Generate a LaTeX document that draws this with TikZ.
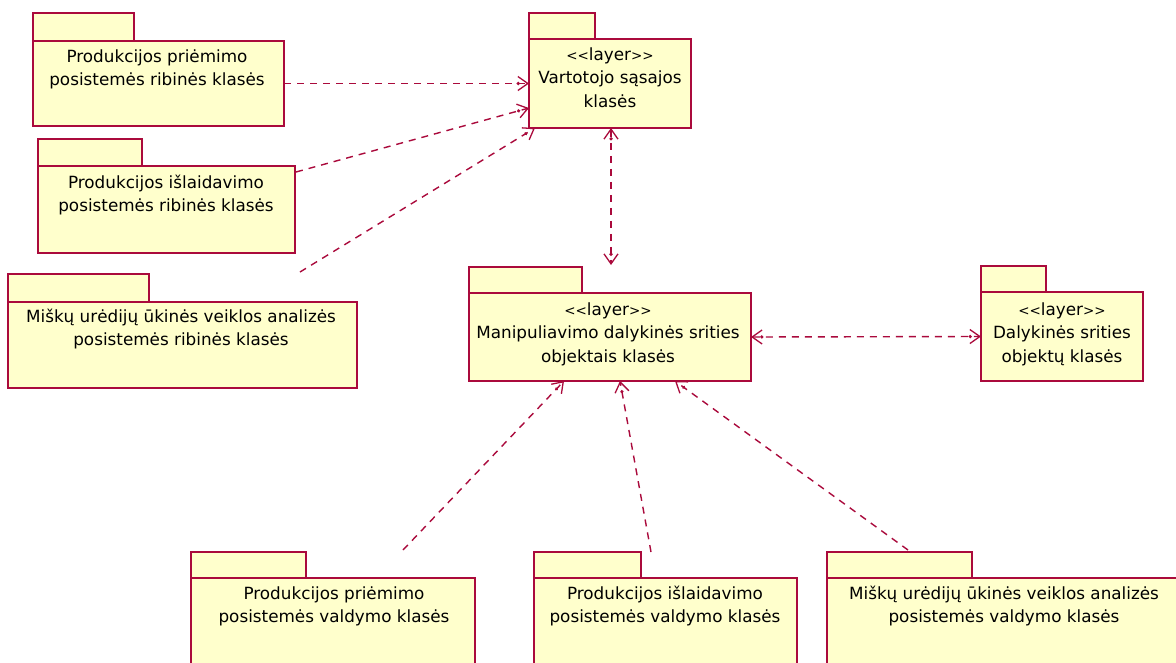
\documentclass[tikz,border=0pt]{standalone}
\usepackage{fontspec}
\setmainfont{DejaVu Sans}
\usetikzlibrary{arrows.meta,calc}
\definecolor{pkgline}{RGB}{170,10,60}
\definecolor{pkgfill}{RGB}{255,255,204}
% fixed-height first line so that the top of a label sits at a known distance above its baseline
\newcommand\firstln{\rule{0pt}{14pt}}
% stereotype marker, with small separate angle brackets
\newcommand\layerst{{\fontsize{13.5}{13.5}\selectfont<{}<}layer{\fontsize{13.5}{13.5}\selectfont>{}>}}
\begin{document}
\begin{tikzpicture}[x=1pt,y=-1pt,
  pkgbody/.style={draw=pkgline,fill=pkgfill,line width=1.5pt,anchor=north west,
    inner sep=0pt,outer sep=0pt},
  pkgtab/.style={draw=pkgline,fill=pkgfill,line width=1.5pt,anchor=south west,
    inner sep=0pt,outer sep=0pt},
  pkgtext/.style={anchor=north,inner sep=0pt,align=center,
    font=\fontsize{16.8}{23.5}\selectfont},
  dep/.style={draw=pkgline,line width=1.4pt,dash pattern=on 7pt off 6pt,
    >={Circle[length=3pt,sep=-2.5pt]Straight Barb[length=10pt,width=14pt,line width=1.3pt]}}
]
\useasboundingbox (0,0) rectangle (1176,662);
\fill[white] (0,0) rectangle (1176,662);
\clip (0,0) rectangle (1176,662);

% boundary packages (left column)
\node[pkgbody,minimum width=251pt,minimum height=85pt] (A) at (33,41) {};
\node[pkgtab,minimum width=101pt,minimum height=28pt] (Atab) at (A.north west) {};
\node[pkgtext] (Atxt) at (157,48) {\firstln Produkcijos priėmimo\\posistemės ribinės klasės};

\node[pkgbody,minimum width=257pt,minimum height=87pt] (B) at (38,166) {};
\node[pkgtab,minimum width=104pt,minimum height=27pt] (Btab) at (B.north west) {};
\node[pkgtext] (Btxt) at (166,174) {\firstln Produkcijos išlaidavimo\\posistemės ribinės klasės};

\node[pkgbody,minimum width=349pt,minimum height=86pt] (C) at (8,302) {};
\node[pkgtab,minimum width=141pt,minimum height=28pt] (Ctab) at (C.north west) {};
\node[pkgtext] (Ctxt) at (181,308) {\firstln Miškų urėdijų ūkinės veiklos analizės\\posistemės ribinės klasės};

% layers
\node[pkgbody,minimum width=162pt,minimum height=89pt] (V) at (529,39) {};
\node[pkgtab,minimum width=66pt,minimum height=26pt] (Vtab) at (V.north west) {};
\node[pkgtext] (Vtxt) at (610,46) {\firstln \layerst\\Vartotojo sąsajos\\klasės};

\node[pkgbody,minimum width=282pt,minimum height=88pt] (M) at (469,293) {};
\node[pkgtab,minimum width=113pt,minimum height=26pt] (Mtab) at (M.north west) {};
\node[pkgtext] (Mtxt) at (608,301) {\firstln \layerst\\Manipuliavimo dalykinės srities\\objektais klasės};

\node[pkgbody,minimum width=162pt,minimum height=89pt] (Dk) at (981,292) {};
\node[pkgtab,minimum width=65pt,minimum height=26pt] (Dktab) at (Dk.north west) {};
\node[pkgtext] (Dktxt) at (1062,301) {\firstln \layerst\\Dalykinės srities\\objektų klasės};

% control packages (bottom row)
\node[pkgbody,minimum width=284pt,minimum height=95pt] (D) at (191,578) {};
\node[pkgtab,minimum width=115pt,minimum height=26pt] (Dtab) at (D.north west) {};
\node[pkgtext] (Dtxt) at (334,585) {\firstln Produkcijos priėmimo\\posistemės valdymo klasės};

\node[pkgbody,minimum width=263pt,minimum height=95pt] (E) at (534,578) {};
\node[pkgtab,minimum width=107pt,minimum height=26pt] (Etab) at (E.north west) {};
\node[pkgtext] (Etxt) at (665,585) {\firstln Produkcijos išlaidavimo\\posistemės valdymo klasės};

\node[pkgbody,minimum width=360pt,minimum height=95pt] (F) at (827,578) {};
\node[pkgtab,minimum width=145pt,minimum height=26pt] (Ftab) at (F.north west) {};
\node[pkgtext] (Ftxt) at (1004,585) {\firstln Miškų urėdijų ūkinės veiklos analizės\\posistemės valdymo klasės};

% dependencies
\draw[dep,->] (A.east) -- (V.west);
\draw[dep,->] ($(B.north east)+(1,6)$) -- ($(V.south west)+(0,-20)$);
\draw[dep,->] ($(C.north east)+(-57,-30)$) -- ($(V.south west)+(6,0)$);
\draw[dep,<->] ($(V.south)+(1,0)$) -- ($(M.north)+(1,-28)$);
\draw[dep,<->] (M.east) -- (Dk.west);
\draw[dep,->] ($(D.north west)+(212,-28)$) -- ($(M.south)+(-46,0)$);
\draw[dep,->] ($(E.north west)+(117,-26)$) -- ($(M.south)+(10,0)$);
\draw[dep,->] ($(F.north west)+(81,-28)$) -- ($(M.south)+(65,0)$);
\end{tikzpicture}
\end{document}
